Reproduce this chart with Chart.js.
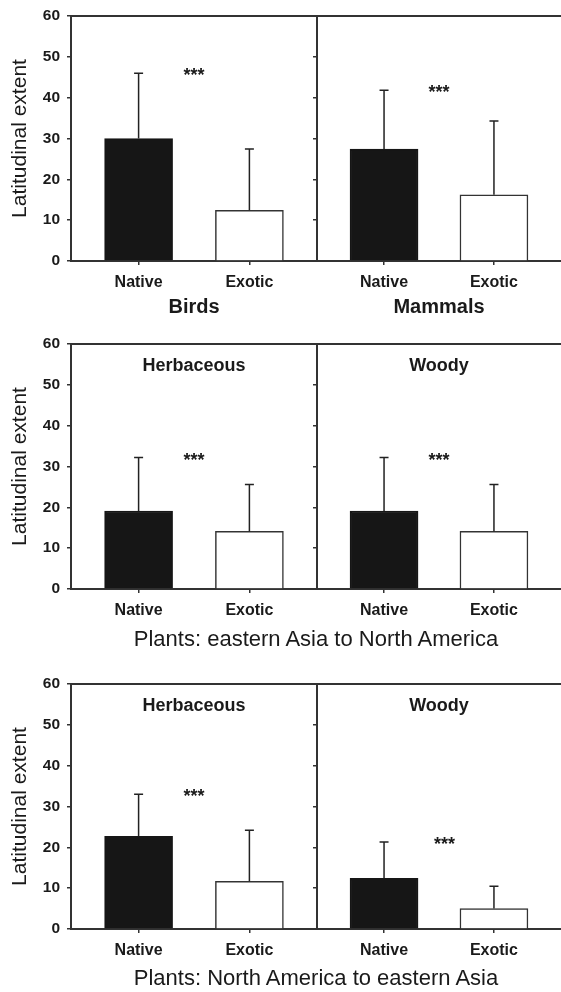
<!DOCTYPE html>
<html>
<head>
<meta charset="utf-8">
<script src="https://cdn.jsdelivr.net/npm/chart.js@4.4.0/dist/chart.umd.min.js"></script>
<style>
  body { margin: 0; background: #fff; }
  #fig { position: relative; width: 561px; height: 992px; overflow: hidden; font-family: "Liberation Sans", Arial, sans-serif; }
  canvas { position: absolute; }
  .sub { position: absolute; left: 71px; width: 490px; text-align: center; font-size: 22px; line-height: 26px; color: #1a1a1a; }
</style>
</head>
<body>
<div id="fig">
  <canvas id="p0" width="317" height="317" style="left:0;top:4px"></canvas>
  <canvas id="p1" width="249" height="317" style="left:312px;top:4px"></canvas>
  <canvas id="p2" width="317" height="297" style="left:0;top:332px"></canvas>
  <canvas id="p3" width="249" height="297" style="left:312px;top:332px"></canvas>
  <canvas id="p4" width="317" height="297" style="left:0;top:672px"></canvas>
  <canvas id="p5" width="249" height="297" style="left:312px;top:672px"></canvas>
  <div class="sub" style="top:626px">Plants: eastern Asia to North America</div>
  <div class="sub" style="top:965px">Plants: North America to eastern Asia</div>
</div>
<script>
// categories and tick values
const categories = ["Native", "Exotic"];
const yTicks = [0, 10, 20, 30, 40, 50, 60];

// mean latitudinal extent (bar) and upper error (SD) for each panel
const birdsMean = [30.0, 12.4];
const birdsErr = [16.0, 15.0];
const mammalsMean = [27.4, 16.2];
const mammalsErr = [14.4, 18.1];
const herbAsiaMean = [19.1, 14.1];
const herbAsiaErr = [13.1, 11.5];
const woodyAsiaMean = [19.1, 14.1];
const woodyAsiaErr = [13.1, 11.5];
const herbAmerMean = [22.7, 11.7];
const herbAmerErr = [10.3, 12.5];
const woodyAmerMean = [12.4, 5.0];
const woodyAmerErr = [8.9, 5.5];

const FONT = '"Liberation Sans", Arial, sans-serif';
const INK = "#1a1a1a";
const LINE = "#333";

const decor = {
  id: "decor",
  afterDatasetsDraw(chart, args, o) {
    const { ctx, chartArea: a, scales: { x, y } } = chart;
    ctx.save();
    // top frame
    ctx.strokeStyle = LINE;
    ctx.lineWidth = 2;
    ctx.beginPath();
    ctx.moveTo(a.left, a.top);
    ctx.lineTo(a.right, a.top);
    ctx.stroke();
    // upper error bars
    ctx.lineWidth = 1.5;
    ctx.strokeStyle = "#222";
    o.means.forEach((m, i) => {
      const px = x.getPixelForValue(i);
      const y0 = y.getPixelForValue(m);
      const y1 = y.getPixelForValue(m + o.err[i]);
      ctx.beginPath();
      ctx.moveTo(px, y0);
      ctx.lineTo(px, y1);
      ctx.moveTo(px - 4.5, y1);
      ctx.lineTo(px + 4.5, y1);
      ctx.stroke();
    });
    // significance stars
    ctx.fillStyle = INK;
    ctx.textAlign = "center";
    ctx.textBaseline = "alphabetic";
    ctx.font = "bold 18px " + FONT;
    ctx.fillText("***", x.getPixelForValue(0.5 + (o.starShift || 0)),
      y.getPixelForValue(o.means[0] + o.err[0]) + 8);
    // inner title
    if (o.inner) {
      ctx.font = "bold 18px " + FONT;
      ctx.textBaseline = "middle";
      ctx.fillText(o.inner, (a.left + a.right) / 2, a.top + 22);
    }
    ctx.restore();
  }
};

function makePanel(id, means, err, opt) {
  const first = opt.first;
  new Chart(document.getElementById(id), {
    type: "bar",
    data: {
      datasets: [{
        data: means.map((v, i) => ({ x: i, y: v })),
        backgroundColor: ["#161616", "#ffffff"],
        borderColor: ["#161616", LINE],
        borderWidth: 1.5,
        barThickness: 68
      }]
    },
    options: {
      responsive: false,
      animation: false,
      layout: { padding: { top: 12, left: 0, right: 0, bottom: 0 } },
      plugins: {
        legend: { display: false },
        tooltip: { enabled: false },
        decor: { means: means, err: err, inner: opt.inner, starShift: opt.starShift }
      },
      scales: {
        x: {
          type: "linear",
          offset: false,
          min: -0.61,
          max: 1.61,
          afterBuildTicks: s => { s.ticks = categories.map((c, i) => ({ value: i })); },
          afterFit: s => { s.height = opt.xh; s.paddingLeft = 0; s.paddingRight = 0; },
          ticks: {
            callback: v => categories[v],
            font: { family: FONT, size: 16, weight: "bold" },
            color: INK,
            padding: 8,
            maxRotation: 0
          },
          grid: { offset: false, drawOnChartArea: false, tickLength: 4, color: LINE, lineWidth: 1.5 },
          border: { color: LINE, width: 2 },
          title: {
            display: !!opt.xTitle,
            text: opt.xTitle || "",
            font: { family: FONT, size: 20, weight: "bold" },
            color: INK,
            padding: { top: 0, bottom: 2 }
          }
        },
        y: {
          min: 0,
          max: 60,
          afterBuildTicks: s => { s.ticks = yTicks.map(v => ({ value: v })); },
          afterFit: s => { s.width = first ? 71 : 5; s.paddingTop = 0; s.paddingBottom = 0; },
          ticks: {
            display: first,
            font: { family: FONT, size: 15.5, weight: "bold" },
            color: INK,
            padding: 7
          },
          grid: { offset: false, drawOnChartArea: false, tickLength: 4, color: LINE, lineWidth: 1.5 },
          border: { color: LINE, width: 2 },
          title: {
            display: first,
            text: "Latitudinal extent",
            font: { family: FONT, size: 21 },
            color: INK,
            padding: { top: 8, bottom: 0 }
          }
        }
      }
    },
    plugins: [decor]
  });
}

makePanel("p0", birdsMean, birdsErr, { first: true, xh: 60, xTitle: "Birds" });
makePanel("p1", mammalsMean, mammalsErr, { first: false, xh: 60, xTitle: "Mammals" });
makePanel("p2", herbAsiaMean, herbAsiaErr, { first: true, xh: 40, inner: "Herbaceous" });
makePanel("p3", woodyAsiaMean, woodyAsiaErr, { first: false, xh: 40, inner: "Woody" });
makePanel("p4", herbAmerMean, herbAmerErr, { first: true, xh: 40, inner: "Herbaceous" });
makePanel("p5", woodyAmerMean, woodyAmerErr, { first: false, xh: 40, inner: "Woody", starShift: 0.05 });
</script>
</body>
</html>
